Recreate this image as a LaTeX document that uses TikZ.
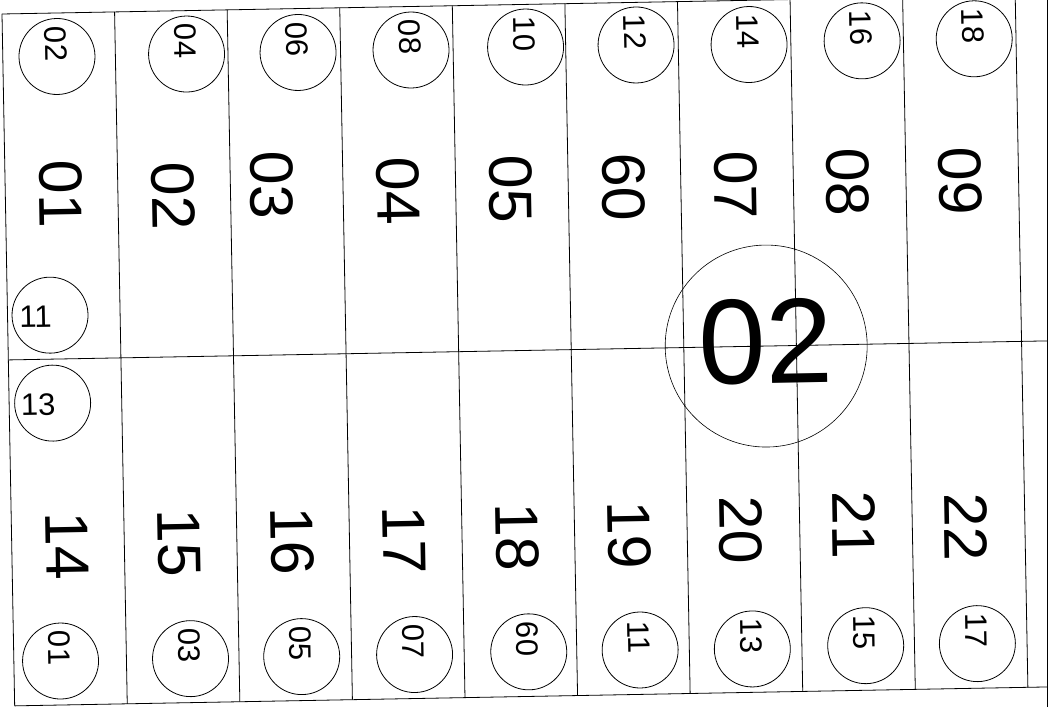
\documentclass[tikz,border=0pt]{standalone}
\usepackage{fontspec}
\setmainfont{Liberation Sans}
\usepackage{tikz}

\begin{document}
\begin{tikzpicture}[
    x=1pt, y=1pt,
    every node/.style={inner sep=0pt, outer sep=0pt},
    plotline/.style={line width=0.8pt, draw=black},
    lotnum/.style={font=\fontsize{61}{61}\selectfont, rotate=-90},
    tag/.style={draw, circle, minimum size=76pt, line width=0.8pt},
    tagnum/.style={font=\fontsize{31}{31}\selectfont, rotate=-90},
    sidenum/.style={font=\fontsize{31}{31}\selectfont},
    blocktag/.style={draw, circle, minimum size=202pt, line width=0.6pt},
    blocknum/.style={font=\fontsize{121}{121}\selectfont}
]
    \useasboundingbox (0,0) rectangle (1062,707);
    \clip (0,0) rectangle (1062,707);

    % Outer boundary on the right
    \draw[plotline] (1047,0) -- (1047,707);

    \begin{scope}[shift={(2,693)}, rotate=1.05, transform shape]
    % Plot lines
    \draw[plotline] (0,0) -- (1045.2,0)
                    (0,-346) -- (1038.8,-346)
                    (0,-692) -- (1032.5,-692);
    \draw[plotline] (0,0) -- (0,-692)
                    (112.6,0) -- (112.6,-692)
                    (225.2,0) -- (225.2,-692)
                    (337.8,0) -- (337.8,-692)
                    (450.4,0) -- (450.4,-692)
                    (563,0) -- (563,-692)
                    (675.6,0) -- (675.6,-692)
                    (788.2,0) -- (788.2,-692)
                    (900.8,0) -- (900.8,-692)
                    (1013.4,0) -- (1013.4,-692);

    % Upper row of plots
    \node[lotnum] (lot01) at (55.5,-181) {01};
    \node[lotnum] (lot02) at (168,-185) {02};
    \node[lotnum] (lot03) at (266.6,-176) {03};
    \node[lotnum] (lot04) at (393,-184) {04};
    \node[lotnum] (lot05) at (505.6,-184.5) {05};
    \node[lotnum] (lot06) at (618.6,-184) {60};
    \node[lotnum] (lot07) at (730.7,-184.7) {07};
    \node[lotnum] (lot08) at (842.7,-184) {08};
    \node[lotnum] (lot09) at (955,-185) {09};

    % Lower row of plots
    \node[lotnum] (lot14) at (55.5,-533) {14};
    \node[lotnum] (lot15) at (167.5,-532.5) {15};
    \node[lotnum] (lot16) at (280.5,-532) {16};
    \node[lotnum] (lot17) at (392.9,-533) {17};
    \node[lotnum] (lot18) at (505.4,-532.5) {18};
    \node[lotnum] (lot19) at (617.7,-532.4) {19};
    \node[lotnum] (lot20) at (729.4,-529.4) {20};
    \node[lotnum] (lot21) at (842.8,-526.8) {21};
    \node[lotnum] (lot22) at (954.4,-530.3) {22};

    % Top tags
    \node[tag] (t02) at (54.2,-43.5) {};
    \node[tagnum] (t02n) at (53.2,-31) {02};
    \node[tag] (t04) at (183.8,-43.4) {};
    \node[tagnum] (t04n) at (182.8,-30.4) {04};
    \node[tag] (t06) at (295.3,-43.9) {};
    \node[tagnum] (t06n) at (294.3,-30.9) {06};
    \node[tag] (t08) at (408.3,-43.5) {};
    \node[tagnum] (t08n) at (407.3,-30.5) {08};
    \node[tag] (t10) at (522.9,-42.6) {};
    \node[tagnum] (t10n) at (521.9,-29.6) {10};
    \node[tag] (t12) at (633.4,-42.6) {};
    \node[tagnum] (t12n) at (632.4,-29.6) {12};
    \node[tag] (t14) at (746.4,-44.2) {};
    \node[tagnum] (t14n) at (745.4,-31.2) {14};
    \node[tag] (t16) at (859.5,-42.6) {};
    \node[tagnum] (t16n) at (858.5,-29.6) {16};
    \node[tag] (t18) at (971.6,-42.6) {};
    \node[tagnum] (t18n) at (970.6,-29.6) {18};

    % Bottom tags
    \node[tag] (b01) at (46.7,-648) {};
    \node[tagnum] (b01n) at (45.7,-635) {01};
    \node[tag] (b03) at (176.7,-648) {};
    \node[tagnum] (b03n) at (175.7,-635) {03};
    \node[tag] (b05) at (287.9,-648) {};
    \node[tagnum] (b05n) at (286.9,-635) {05};
    \node[tag] (b07) at (400.8,-648) {};
    \node[tagnum] (b07n) at (399.8,-635) {07};
    \node[tag] (b09) at (515,-647.4) {};
    \node[tagnum] (b09n) at (514,-634.4) {60};
    \node[tag] (b11) at (626.4,-647.6) {};
    \node[tagnum] (b11n) at (625.4,-634.6) {11};
    \node[tag] (b13) at (738.6,-648.6) {};
    \node[tagnum] (b13n) at (737.6,-635.6) {13};
    \node[tag] (b15) at (852,-647.4) {};
    \node[tagnum] (b15n) at (851,-634.4) {15};
    \node[tag] (b17) at (963.7,-647.4) {};
    \node[tagnum] (b17n) at (962.7,-634.4) {17};

    % Side tags
    \node[tag] (s11) at (42.5,-302) {};
    \node[sidenum] (s11n) at (28,-303.5) {11};
    \node[tag] (s13) at (43.5,-390) {};
    \node[sidenum] (s13n) at (29,-391.5) {13};

    % Block tag
    \node[blocktag] (blk) at (758,-346) {};
    \node[blocknum] (blkn) at (758,-342) {02};
    \end{scope}
\end{tikzpicture}
\end{document}
